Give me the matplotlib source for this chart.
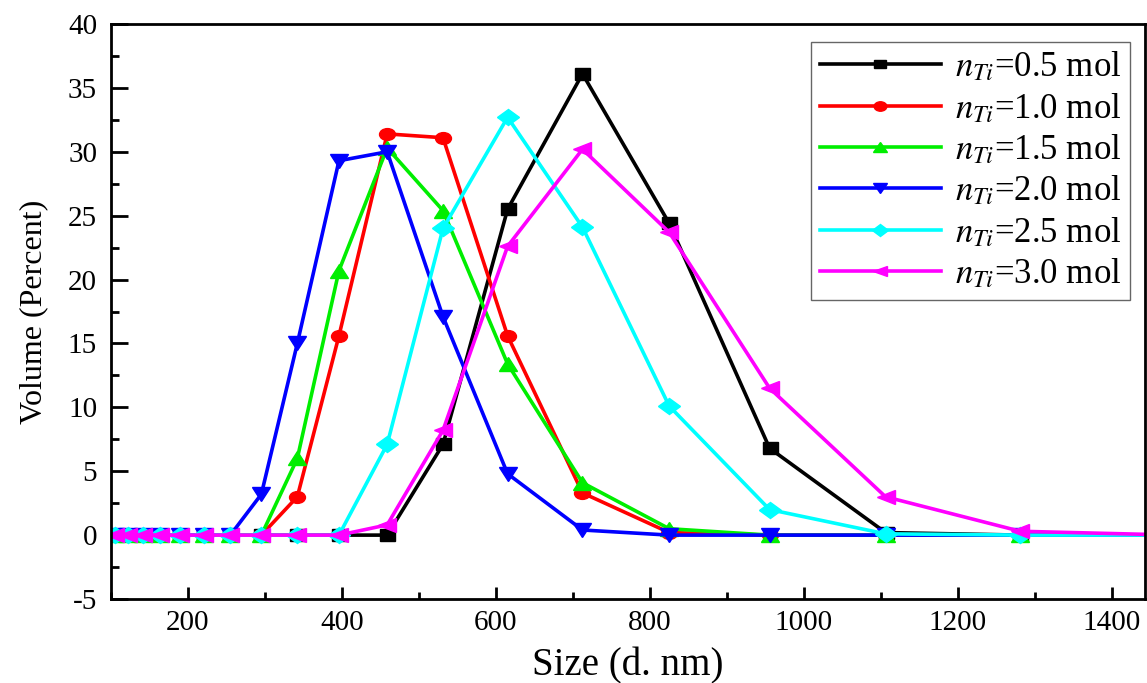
import matplotlib
matplotlib.use("Agg")
import matplotlib.pyplot as plt
from matplotlib.ticker import MultipleLocator
from matplotlib.markers import MarkerStyle
from matplotlib.transforms import Affine2D

plt.rcParams['font.family'] = ['Liberation Serif', 'DejaVu Serif']
plt.rcParams['mathtext.fontset'] = 'stix'
plt.rcParams['axes.unicode_minus'] = False

size_nm = [105.7, 122.4, 141.8, 164.2, 190.1, 220.2, 255.0, 295.3, 342.0, 396.1,
           458.7, 531.2, 615.1, 712.4, 825.0, 955.4, 1106.0, 1281.0, 1484.0]

vol_05 = [0, 0, 0, 0, 0, 0, 0, 0, 0, 0, 0, 7.1, 25.5, 36.1, 24.4, 6.8, 0.2, 0, 0]
vol_10 = [0, 0, 0, 0, 0, 0, 0, 0, 3.0, 15.6, 31.4, 31.1, 15.6, 3.3, 0.2, 0, 0, 0, 0]
vol_15 = [0, 0, 0, 0, 0, 0, 0, 0, 6.0, 20.7, 30.3, 25.4, 13.4, 4.1, 0.5, 0, 0, 0, 0]
vol_20 = [0, 0, 0, 0, 0, 0, 0, 3.2, 15.0, 29.3, 30.0, 17.1, 4.8, 0.4, 0, 0, 0, 0, 0]
vol_25 = [0, 0, 0, 0, 0, 0, 0, 0, 0, 0, 7.1, 24.0, 32.7, 24.1, 10.1, 2.0, 0.1, 0, 0]
vol_30 = [0, 0, 0, 0, 0, 0, 0, 0, 0, 0, 0.8, 8.2, 22.6, 30.2, 23.7, 11.5, 3.0, 0.3, 0]

labels = [r'$n_{Ti}$=0.5 mol', r'$n_{Ti}$=1.0 mol', r'$n_{Ti}$=1.5 mol',
          r'$n_{Ti}$=2.0 mol', r'$n_{Ti}$=2.5 mol', r'$n_{Ti}$=3.0 mol']
colors = ['#000000', '#ff0000', '#00ee00', '#0000ff', '#00ffff', '#ff00ff']
markers = ['s', 'o', '^', 'v', 'D', '<']
msizes = [8, 8.5, 9.5, 9.5, 8, 9.5]
series = [vol_05, vol_10, vol_15, vol_20, vol_25, vol_30]

fig = plt.figure(figsize=(11.47, 6.83), dpi=100)
ax = fig.add_axes([111/1147, 1 - 599/683, (1145-111)/1147, (599-24)/683])

stretch = Affine2D().scale(1.35, 1.0)
for y, c, m, ms, lab in zip(series, colors, markers, msizes, labels):
    ax.plot(size_nm, y, color=c, marker=MarkerStyle(m, transform=stretch),
            markersize=ms, linewidth=2.6, label=lab)

ax.set_xlim(100, 1443)
ax.set_ylim(-5, 40)
ax.xaxis.set_major_locator(MultipleLocator(200))
ax.xaxis.set_minor_locator(MultipleLocator(100))
ax.yaxis.set_major_locator(MultipleLocator(5))
ax.yaxis.set_minor_locator(MultipleLocator(2.5))
ax.tick_params(which='both', direction='in', top=False, right=False, labelsize=21, width=2)
ax.tick_params(axis='x', which='major', length=9, pad=8)
ax.tick_params(axis='x', which='minor', length=5)
ax.tick_params(axis='y', which='major', length=12, pad=10)
ax.tick_params(axis='y', which='minor', length=5.5)
for s in ax.spines.values():
    s.set_linewidth(2)

ax.set_xlabel('Size (d. nm)', fontsize=28, labelpad=8)
ax.set_ylabel('Volume (Percent)', fontsize=23, labelpad=14)

leg = ax.legend(loc='upper right', bbox_to_anchor=(0.9855, 0.969), fontsize=25,
                fancybox=False, framealpha=1, edgecolor='#666666',
                handlelength=3.5, handletextpad=0.4, labelspacing=0.22,
                borderpad=0.25, borderaxespad=0, markerscale=0.8)
leg.get_frame().set_linewidth(1.0)

fig.savefig('out.png', dpi=100)
